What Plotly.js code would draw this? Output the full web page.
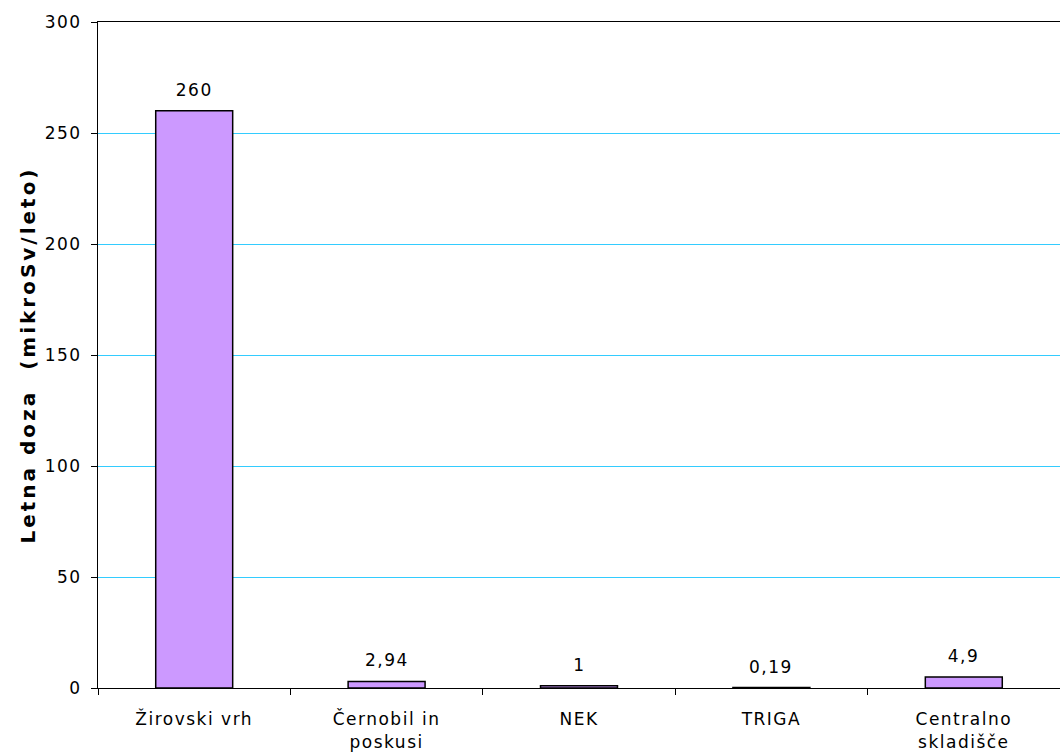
<!DOCTYPE html>
<html><head><meta charset="utf-8">
<script src="https://cdn.plot.ly/plotly-3.0.1.min.js"></script>
<style>
html,body{margin:0;padding:0;background:#fff}
#chart text{letter-spacing:1.5px}
#chart .ytitle{letter-spacing:3px}
</style>
</head><body><div id="chart" style="width:1060px;height:756px"></div>
<script>
const categories = ["Žirovski vrh", "Černobil in<br>poskusi", "NEK", "TRIGA", "Centralno<br>skladišče"];
const values = [260, 2.94, 1, 0.19, 4.9];
const valueLabels = ["260", "2,94", "1", "0,19", "4,9"];
const yTicks = [0, 50, 100, 150, 200, 250, 300];

const font = "DejaVu Sans, Verdana, sans-serif";
const trace = {
  type: "bar", x: categories, y: values,
  width: 0.4,
  marker: {color: "#CC99FF", line: {color: "#000", width: 1.5}},
  hoverinfo: "none"
};
const annotations = categories.map((c, i) => ({
  x: c, y: values[i], text: valueLabels[i], showarrow: false,
  yanchor: "bottom", yshift: 9, font: {family: font, size: 17, color: "#000"}
}));
const layout = {
  width: 1060, height: 756,
  margin: {l: 98, r: 0, t: 22, b: 68},
  paper_bgcolor: "#fff", plot_bgcolor: "#fff",
  showlegend: false,
  font: {family: font, size: 17, color: "#000"},
  xaxis: {
    type: "category", showline: true, linecolor: "#000", linewidth: 1, mirror: true,
    ticks: "outside", tickson: "boundaries", ticklen: 6, tickcolor: "#000",
    showgrid: false, zeroline: false,
    ticklabelstandoff: 16,
    tickfont: {family: font, size: 17, color: "#000"}
  },
  yaxis: {
    range: [0, 300], tickvals: yTicks, ticktext: yTicks.map(String),
    showline: true, linecolor: "#000", linewidth: 1,
    ticks: "outside", ticklen: 6, tickcolor: "#000",
    showgrid: true, gridcolor: "#33CCFF", gridwidth: 1, zeroline: false,
    tickfont: {family: font, size: 17, color: "#000"},
    ticklabelstandoff: 6,
    title: {text: "Letna doza  (mikroSv/leto)", font: {family: font, size: 20, color: "#000", weight: "bold"}, standoff: 8}
  },
  annotations: annotations
};
Plotly.newPlot("chart", [trace], layout, {displayModeBar: false, staticPlot: true});
</script></body></html>
